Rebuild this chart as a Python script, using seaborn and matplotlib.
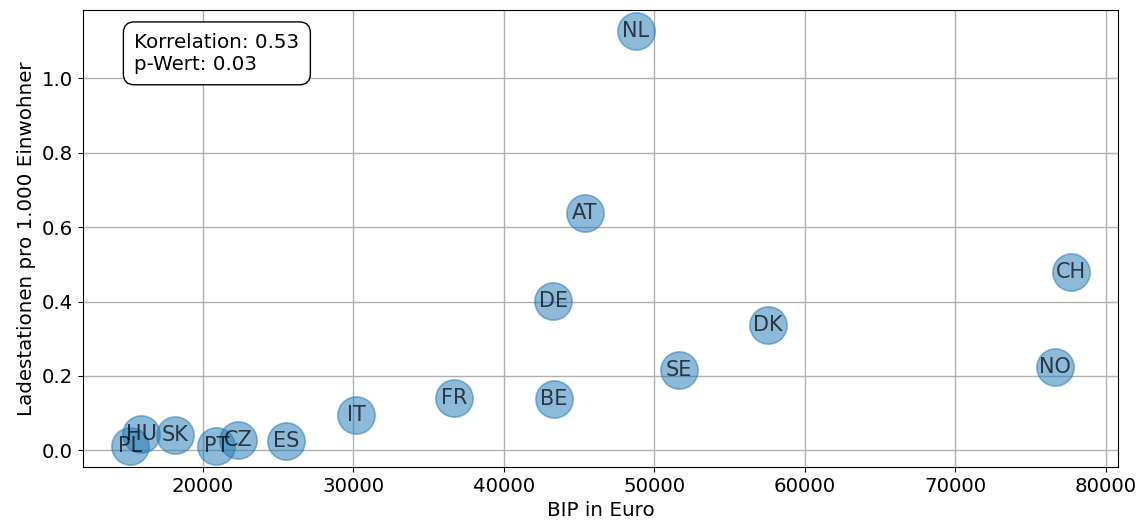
import matplotlib
matplotlib.use("Agg")
import matplotlib.pyplot as plt
import seaborn as sns
import pandas as pd

# GDP per capita (EUR) and charging stations per 1,000 inhabitants
countries = ["NL", "AT", "CH", "DE", "DK", "SE", "NO", "FR", "BE", "IT",
             "ES", "CZ", "PT", "PL", "HU", "SK"]
gdp = [48800, 45390, 77730, 43290, 57560, 51650, 76620, 36710, 43350, 30210,
       25560, 22350, 20910, 15150, 15930, 18140]
stations = [1.1275, 0.637, 0.4805, 0.402, 0.3375, 0.2167, 0.2247, 0.1415, 0.139, 0.0958,
            0.026, 0.027, 0.011, 0.013, 0.044, 0.042]
stats_text = "Korrelation: 0.53\np-Wert: 0.03"

df = pd.DataFrame({"Land": countries, "BIP": gdp, "Ladestationen": stations})

plt.rcParams["font.family"] = ["DejaVu Sans"]
fig, ax = plt.subplots(figsize=(11.46, 5.26), dpi=100)

sns.scatterplot(data=df, x="BIP", y="Ladestationen", s=720, alpha=0.5,
                color="#1f77b4", edgecolor="#1f77b4", linewidth=1.2, ax=ax, zorder=3)

for _, row in df.iterrows():
    ax.text(row["BIP"], row["Ladestationen"], row["Land"], fontsize=15,
            ha="center", va="center", color="black", alpha=0.7, zorder=4)

ax.text(0.05, 0.95, stats_text, transform=ax.transAxes, fontsize=14.3,
        va="top", ha="left", zorder=5,
        bbox=dict(boxstyle="round,pad=0.55", facecolor="white", edgecolor="black"))

ax.grid(True, color="#b0b0b0", linewidth=1)
ax.set_axisbelow(True)
ax.set_xlabel("BIP in Euro", fontsize=14.3)
ax.set_ylabel("Ladestationen pro 1.000 Einwohner", fontsize=14.3)
ax.tick_params(labelsize=14.2)

fig.subplots_adjust(left=0.072, right=0.976, top=0.981, bottom=0.112)
fig.savefig("out.png", dpi=100)
